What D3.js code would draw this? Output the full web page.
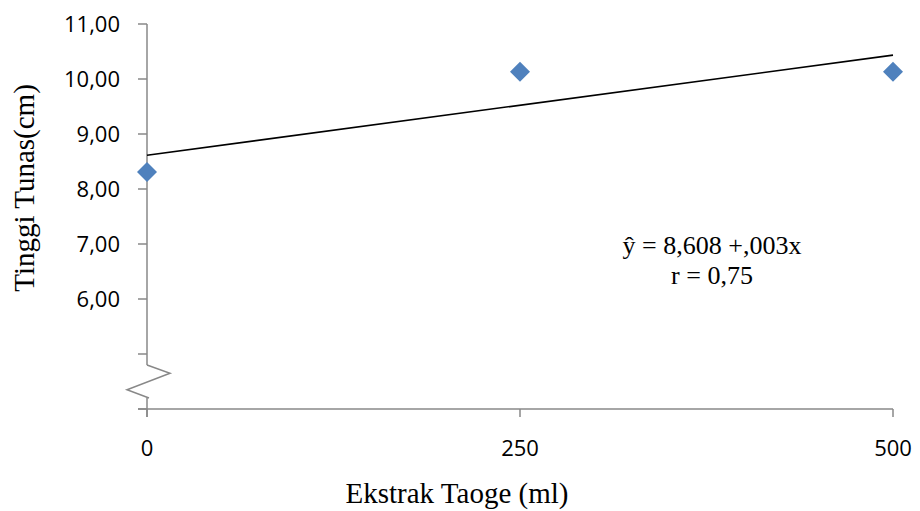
<!DOCTYPE html>
<html><head><meta charset="utf-8">
<script src="https://cdn.jsdelivr.net/npm/d3@7/dist/d3.min.js"></script>
<style>body{margin:0;background:#fff}svg{display:block}</style>
</head><body>
<svg id="c" width="920" height="511"></svg>
<script>
// Data
const doses = [0, 250, 500];
const heights = [8.31, 10.13, 10.13];
const xTicks = [0, 250, 500];
const yTicks = [5, 6, 7, 8, 9, 10, 11];
const yTickLabels = ["", "6,00", "7,00", "8,00", "9,00", "10,00", "11,00"];
const equationLines = ["ŷ = 8,608 +,003x", "r = 0,75"];

const svg = d3.select("#c");
const x = d3.scaleLinear().domain([0, 500]).range([147, 893]);
const y = d3.scaleLinear().domain([4, 11]).range([409, 24]);
const axisColor = "#888888";
const sans = "'Open Sans', 'Liberation Sans', sans-serif";
const serif = "'Liberation Serif', 'Times New Roman', serif";

// Y axis line (with break)
const ax = x(0);
svg.append("line").attr("x1", ax).attr("x2", ax).attr("y1", y(11)).attr("y2", y(4.8))
  .attr("stroke", axisColor).attr("stroke-width", 1.5);
svg.append("line").attr("x1", ax).attr("x2", ax).attr("y1", y(4.2)).attr("y2", y(4) + 8)
  .attr("stroke", axisColor).attr("stroke-width", 1.5);
// break zigzag
svg.append("path")
  .attr("d", `M${ax},${y(4.8)} L${ax + 23},${y(4.65)} L${ax - 20},${y(4.35)} L${ax + 2},${y(4.2)}`)
  .attr("fill", "none").attr("stroke", axisColor).attr("stroke-width", 1.5);

// Y ticks
const yt = svg.append("g");
yTicks.concat([4]).forEach(v => {
  yt.append("line").attr("x1", ax - 9).attr("x2", ax).attr("y1", y(v)).attr("y2", y(v))
    .attr("stroke", axisColor).attr("stroke-width", 1.5);
});
yTicks.forEach((v, i) => {
  if (!yTickLabels[i]) return;
  yt.append("text").attr("x", 120).attr("y", y(v)).attr("dy", "0.35em")
    .attr("text-anchor", "end").attr("font-family", sans).attr("font-size", 22)
    .attr("fill", "#000").text(yTickLabels[i]);
});

// X axis
svg.append("line").attr("x1", ax - 9).attr("x2", x(500)).attr("y1", y(4)).attr("y2", y(4))
  .attr("stroke", axisColor).attr("stroke-width", 1.5);
xTicks.forEach(v => {
  svg.append("line").attr("x1", x(v)).attr("x2", x(v)).attr("y1", y(4)).attr("y2", y(4) + 8)
    .attr("stroke", axisColor).attr("stroke-width", 1.5);
  svg.append("text").attr("x", x(v)).attr("y", 456).attr("text-anchor", "middle")
    .attr("font-family", sans).attr("font-size", 22).attr("fill", "#000").text(String(v));
});

// Trend line (least squares from data)
const mx = d3.mean(doses), my = d3.mean(heights);
const slope = d3.sum(doses, (d, i) => (d - mx) * (heights[i] - my)) / d3.sum(doses, d => (d - mx) ** 2);
const intercept = my - slope * mx;
svg.append("line")
  .attr("x1", x(0)).attr("y1", y(intercept))
  .attr("x2", x(500)).attr("y2", y(intercept + slope * 500))
  .attr("stroke", "#000").attr("stroke-width", 1.6);

// Points (diamonds)
const sym = d3.symbol().type(d3.symbolSquare).size(200);
svg.append("g").selectAll("path").data(doses).join("path")
  .attr("d", sym)
  .attr("transform", (d, i) => `translate(${x(d)},${y(heights[i])}) rotate(45)`)
  .attr("fill", "#4F81BD");

// Equation
equationLines.forEach((t, i) => {
  svg.append("text").attr("x", 712).attr("y", 254 + i * 30).attr("text-anchor", "middle")
    .attr("font-family", serif).attr("font-size", 26).attr("fill", "#000").text(t);
});

// Axis titles
svg.append("text").attr("x", 457).attr("y", 503).attr("text-anchor", "middle")
  .attr("font-family", serif).attr("font-size", 29).attr("fill", "#000").text("Ekstrak Taoge (ml)");
svg.append("text").attr("transform", "translate(34,188) rotate(-90)").attr("text-anchor", "middle")
  .attr("font-family", serif).attr("font-size", 29).attr("fill", "#000").text("Tinggi Tunas(cm)");
</script>
</body></html>
